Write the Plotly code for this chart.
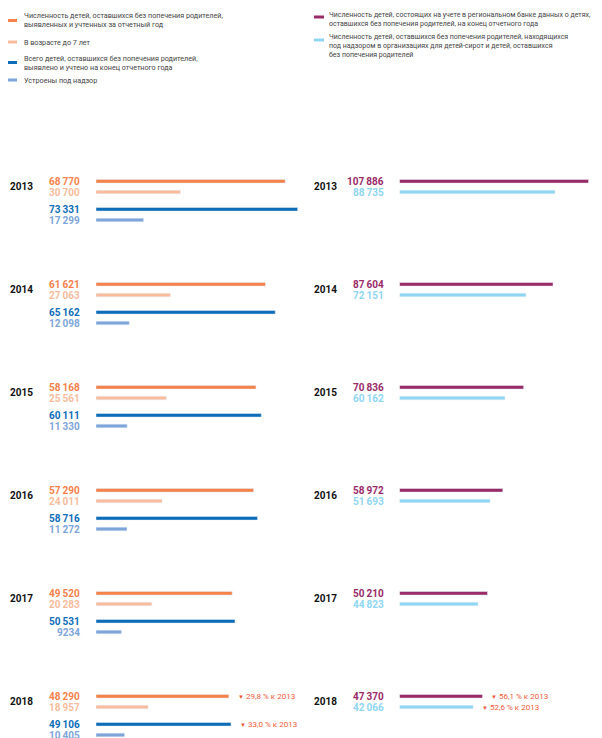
import plotly.graph_objects as go

# ---------------- data ----------------
years = [2013, 2014, 2015, 2016, 2017, 2018]
identified = [68770, 61621, 58168, 57290, 49520, 48290]
under7 = [30700, 27063, 25561, 24011, 20283, 18957]
registered_total = [73331, 65162, 60111, 58716, 50531, 49106]
placed = [17299, 12098, 11330, 11272, 9234, 10405]
databank = [107886, 87604, 70836, 58972, 50210, 47370]
in_orgs = [88735, 72151, 60162, 51693, 44823, 42066]

legend_left = [
    "Численность детей, оставшихся без попечения родителей,<br>выявленных и учтенных за отчетный год",
    "В возрасте до 7 лет",
    "Всего детей, оставшихся без попечения родителей,<br>выявлено и учтено на конец отчетного года",
    "Устроены под надзор",
]
legend_right = [
    "Численность детей, состоящих на учете в региональном банке данных о детях,<br>оставшихся без попечения родителей, на конец отчетного года",
    "Численность детей, оставшихся без попечения родителей, находящихся<br>под надзором в организациях для детей-сирот и детей, оставшихся<br>без попечения родителей",
]

# ---------------- style ----------------
C_OR = "#F4824A"
C_LOR = "#F8BC9C"
C_BL = "#0E6DB8"
C_LBL = "#7DA5DA"
C_MAG = "#9A2B69"
C_CY = "#8FD6F3"
C_RED = "#EE5A3B"
PAGE_OFF = 8            # default body margin of the html page
FW, FH = 602 - PAGE_OFF, 738 - PAGE_OFF
FONT = "Roboto"


def px(x):
    """page pixel x -> paper fraction"""
    return (x - PAGE_OFF) / FW


G0 = 181.3      # first group top bar centre (page px)
PERIOD = 103.0  # px between year groups
OFF_L = [0, 10.7, 28.0, 38.7]
OFF_R = [0, 10.7]
BAR_W = 3.6


def fmt(v):
    s = f"{v:,}"
    return s.replace(",", "\u2009") if v >= 10000 else s.replace(",", "")


def pct(a, b):
    return f"{(1 - b / a) * 100:.1f}".replace(".", ",")


fig = go.Figure()

left_series = [(identified, C_OR), (under7, C_LOR), (registered_total, C_BL), (placed, C_LBL)]
right_series = [(databank, C_MAG), (in_orgs, C_CY)]

annotations = []
for k, (vals, col) in enumerate(left_series):
    ys = [G0 + i * PERIOD + OFF_L[k] for i in range(len(years))]
    fig.add_trace(go.Bar(x=vals, y=ys, orientation="h", marker_color=col, width=BAR_W,
                         xaxis="x", yaxis="y", showlegend=False, hoverinfo="x"))
    for v, y in zip(vals, ys):
        annotations.append(dict(xref="paper", yref="y", x=px(82), y=y, text=fmt(v),
                                xanchor="right", yanchor="middle", showarrow=False,
                                font=dict(family=FONT, size=10, color=col, weight="bold")))

for k, (vals, col) in enumerate(right_series):
    ys = [G0 + i * PERIOD + OFF_R[k] for i in range(len(years))]
    fig.add_trace(go.Bar(x=vals, y=ys, orientation="h", marker_color=col, width=BAR_W,
                         xaxis="x2", yaxis="y", showlegend=False, hoverinfo="x"))
    for v, y in zip(vals, ys):
        annotations.append(dict(xref="paper", yref="y", x=px(386), y=y, text=fmt(v),
                                xanchor="right", yanchor="middle", showarrow=False,
                                font=dict(family=FONT, size=10, color=col, weight="bold")))

# year labels
for i, yr in enumerate(years):
    yc = G0 + i * PERIOD + 5.2
    for xp in (px(8), px(312)):
        annotations.append(dict(xref="paper", yref="y", x=xp, y=yc, text=str(yr),
                                xanchor="left", yanchor="middle", showarrow=False,
                                font=dict(family=FONT, size=10, color="#111111", weight="bold")))

# change vs 2013 annotations
last = len(years) - 1
for vals, off, xa in [(identified, OFF_L[0], "x"), (registered_total, OFF_L[2], "x"),
                      (databank, OFF_R[0], "x2"), (in_orgs, OFF_R[1], "x2")]:
    annotations.append(dict(xref=xa, yref="y", x=vals[last], y=G0 + last * PERIOD + off,
                            text=f"<span style='font-size:6px'>▼</span> {pct(vals[0], vals[last])} % к {years[0]}",
                            xanchor="left", yanchor="middle", xshift=7, showarrow=False,
                            font=dict(family=FONT, size=8, color=C_RED)))

# legend (custom)
shapes = []
leg_l = [(20, 20.5, C_OR), (42, 42, C_LOR), (63, 62.5, C_BL), (80, 80, C_LBL)]
for (ty, sy, col), txt in zip(leg_l, legend_left):
    shapes.append(dict(type="line", xref="paper", yref="y", x0=px(8), x1=px(17), y0=sy, y1=sy,
                       line=dict(color=col, width=3)))
    annotations.append(dict(xref="paper", yref="y", x=px(22), y=ty, text=txt, align="left",
                            xanchor="left", yanchor="middle", showarrow=False,
                            font=dict(family=FONT, size=7.2, color="#444444")))
leg_r = [(19, 17, C_MAG), (45.5, 40, C_CY)]
for (ty, sy, col), txt in zip(leg_r, legend_right):
    shapes.append(dict(type="line", xref="paper", yref="y", x0=px(314), x1=px(324), y0=sy, y1=sy,
                       line=dict(color=col, width=3)))
    annotations.append(dict(xref="paper", yref="y", x=px(327), y=ty, text=txt, align="left",
                            xanchor="left", yanchor="middle", showarrow=False,
                            font=dict(family=FONT, size=7, color="#444444")))

LS = 0.00275   # px per unit, left
RS = 0.001752  # px per unit, right
fig.update_layout(
    width=FW, height=FH,
    margin=dict(l=0, r=0, t=0, b=0),
    paper_bgcolor="white", plot_bgcolor="white",
    barmode="overlay",
    xaxis=dict(domain=[px(96), px(96 + 80000 * LS)], range=[0, 80000], visible=False,
               fixedrange=True, anchor="y"),
    xaxis2=dict(domain=[px(399.5), px(399.5 + 110000 * RS)], range=[0, 110000], visible=False,
                fixedrange=True, anchor="y"),
    yaxis=dict(domain=[0, 1], range=[FH + PAGE_OFF, PAGE_OFF], visible=False, fixedrange=True),
    annotations=annotations,
    shapes=shapes,
    font=dict(family=FONT),
)

fig.write_html("out.html")
